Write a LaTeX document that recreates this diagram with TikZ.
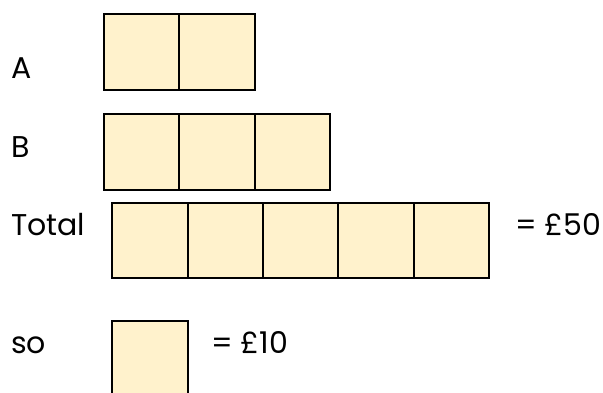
\documentclass[tikz,border=0pt]{standalone}
\usepackage{fontspec}
\setmainfont{Poppins}
\usetikzlibrary{
    positioning
}
\definecolor{cellfill}{HTML}{FFF2CC}
\tikzset{
    cell/.style={
        fill=cellfill,
        minimum width=75.4pt,
        minimum height=76pt,
        inner sep=0pt,
        outer sep=0pt
    },
    border/.style={
        draw=black,
        line width=2pt
    },
    lbl/.style={
        anchor=base west,
        inner sep=0pt,
        font=\fontsize{30}{30}\selectfont
    }
}
\begin{document}
\begin{tikzpicture}[
    x=1pt,
    y=-1pt
]
    \clip (0,0) rectangle (603,392);

    % Etiquetas
    \node[lbl] (labA)   at (11,78)   {A};
    \node[lbl] (labB)   at (11,157)  {B};
    \node[lbl] (labT)   at (11,235)  {Total};
    \node[lbl] (labso)  at (11,353)  {so};
    \node[lbl] (sum50)  at (515,235) {= £50};
    \node[lbl] (sum10)  at (211,353) {= £10};

    % Fila A
    \node[cell] (a1) at (141.7,52)               {};
    \node[cell] (a2) [right=0pt of a1]           {};

    % Fila B
    \node[cell] (b1) at (141.7,151.5)            {};
    \node[cell] (b2) [right=0pt of b1]           {};
    \node[cell] (b3) [right=0pt of b2]           {};

    % Total
    \node[cell, minimum height=75pt] (t1) at (149.8,240.5) {};
    \node[cell, minimum height=75pt] (t2) [right=0pt of t1] {};
    \node[cell, minimum height=75pt] (t3) [right=0pt of t2] {};
    \node[cell, minimum height=75pt] (t4) [right=0pt of t3] {};
    \node[cell, minimum height=75pt] (t5) [right=0pt of t4] {};

    % Una parte
    \node[cell] (s1) at (150,359)                {};

    % Bordes
    \foreach \c in {a1,a2,b1,b2,b3,t1,t2,t3,t4,t5,s1}
        \draw[border] (\c.north west) rectangle (\c.south east);

\end{tikzpicture}
\end{document}
